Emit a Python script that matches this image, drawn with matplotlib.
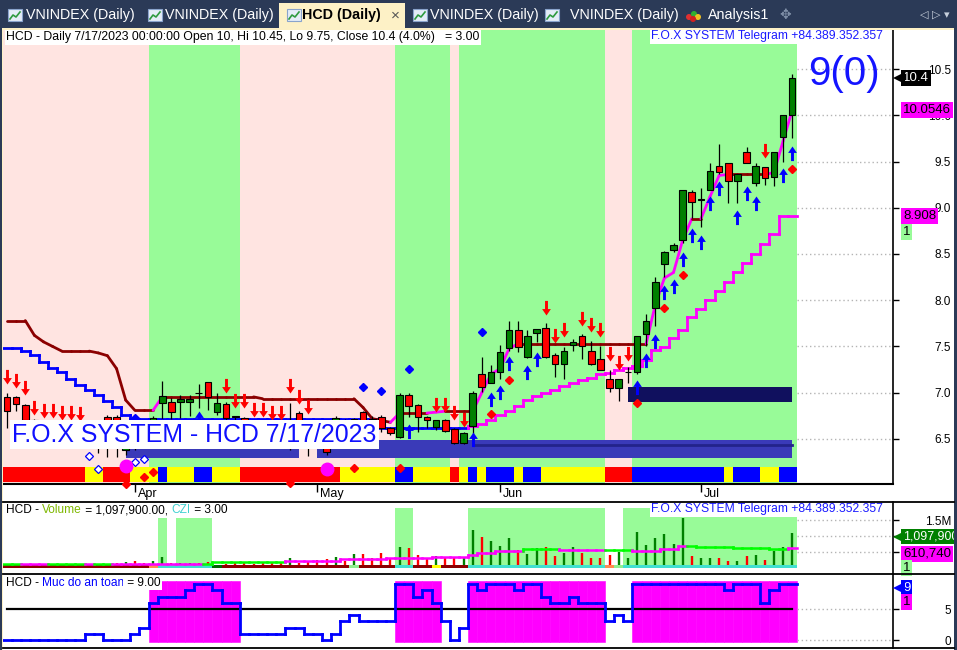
import matplotlib
matplotlib.use("Agg")
import numpy as np
import matplotlib.pyplot as plt
import matplotlib.transforms as mtransforms
from matplotlib.path import Path
from matplotlib.patches import Rectangle, Circle
from matplotlib.collections import LineCollection

plt.rcParams["font.family"] = ["Liberation Sans", "DejaVu Sans"]

# ------------------------------------------------------------------ data
ticker = "HCD"
last_date = "7/17/2023"
month_names = ["Apr", "May", "Jun", "Jul"]
month_bar = [14, 34, 54, 76]

opens = [6.95, 6.95, 6.87, 6.70, 6.62, 6.55, 6.58, 6.50, 6.56, 6.48,
         6.45, 6.74, 6.74, 6.38, 6.52, 6.50, 6.55, 6.885, 6.90, 6.90,
         6.90, 7.00, 7.12, 6.79, 6.875, 6.745, 6.73, 6.65, 6.62, 6.65,
         6.60, 6.62, 6.78, 6.62, 6.55, 6.48, 6.60, 6.70, 6.71, 6.79,
         6.72, 6.74, 6.62, 6.52, 6.98, 6.87, 6.74, 6.63, 6.71, 6.61,
         6.46, 6.64, 7.20, 7.11, 7.22, 7.48, 7.68, 7.39, 7.65, 7.70,
         7.41, 7.31, 7.52, 7.61, 7.45, 7.36, 7.15, 7.05, 7.22, 7.22,
         7.64, 7.92, 8.39, 8.54, 8.65, 9.17, 9.08, 9.19, 9.45, 9.48,
         9.29, 9.60, 9.27, 9.44, 9.33, 9.77, 10.00]
highs = [7.00, 6.96, 6.88, 6.72, 6.66, 6.62, 6.60, 6.60, 6.60, 6.55,
         6.60, 6.76, 6.76, 6.46, 6.55, 6.58, 6.75, 7.13, 6.94, 6.97,
         6.97, 7.09, 7.12, 7.00, 6.90, 6.75, 6.74, 6.68, 6.66, 6.66,
         6.64, 6.885, 6.80, 6.68, 6.60, 6.52, 6.75, 6.72, 6.73, 6.80,
         6.75, 6.76, 6.63, 7.00, 7.00, 6.88, 6.75, 6.71, 6.72, 6.62,
         6.57, 7.02, 7.39, 7.30, 7.52, 7.78, 7.78, 7.68, 7.69, 7.75,
         7.43, 7.49, 7.58, 7.63, 7.56, 7.50, 7.25, 7.15, 7.28, 7.61,
         7.85, 8.25, 8.53, 8.62, 9.19, 9.19, 9.21, 9.48, 9.69, 9.48,
         9.37, 9.66, 9.48, 9.44, 9.60, 10.00, 10.45]
lows = [6.62, 6.80, 6.62, 6.55, 6.50, 6.48, 6.45, 6.45, 6.42, 6.40,
        6.35, 6.30, 6.30, 6.33, 6.38, 6.40, 6.50, 6.70, 6.72, 6.73,
        6.75, 6.84, 6.81, 6.76, 6.70, 6.60, 6.58, 6.55, 6.55, 6.52,
        6.50, 6.38, 6.55, 6.32, 6.40, 6.33, 6.40, 6.58, 6.60, 6.60,
        6.62, 6.58, 6.54, 6.51, 6.74, 6.57, 6.62, 6.60, 6.57, 6.45,
        6.45, 6.55, 7.01, 7.10, 7.15, 7.45, 7.44, 7.38, 7.55, 7.38,
        7.17, 7.15, 7.45, 7.37, 7.30, 7.25, 7.01, 6.91, 7.10, 7.20,
        7.50, 7.72, 8.25, 8.52, 8.62, 8.89, 8.79, 9.19, 9.37, 9.05,
        9.05, 9.48, 9.24, 9.25, 9.24, 9.50, 9.75]
closes = [6.80, 6.88, 6.70, 6.60, 6.55, 6.58, 6.50, 6.55, 6.48, 6.45,
          6.55, 6.50, 6.52, 6.42, 6.45, 6.46, 6.73, 6.96, 6.79, 6.93,
          6.93, 6.995, 6.95, 6.885, 6.73, 6.74, 6.62, 6.60, 6.58, 6.58,
          6.55, 6.625, 6.62, 6.50, 6.45, 6.36, 6.73, 6.62, 6.715, 6.67,
          6.67, 6.62, 6.56, 6.98, 6.86, 6.74, 6.70, 6.70, 6.59, 6.46,
          6.56, 7.00, 7.06, 7.22, 7.44, 7.68, 7.49, 7.61, 7.69, 7.39,
          7.31, 7.45, 7.55, 7.50, 7.31, 7.25, 7.05, 7.15, 7.225, 7.61,
          7.78, 8.20, 8.52, 8.60, 9.19, 9.06, 9.10, 9.40, 9.39, 9.29,
          9.36, 9.48, 9.45, 9.32, 9.60, 10.00, 10.40]

# volume in millions of shares
volume = [0.08, 0.07, 0.09, 0.06, 0.07, 0.08, 0.06, 0.07, 0.09, 0.07,
          0.10, 0.10, 0.14, 0.19, 0.22, 0.16, 0.22, 0.35, 0.16, 0.16,
          0.14, 0.16, 0.19, 0.08, 0.12, 0.16, 0.16, 0.12, 0.16, 0.16,
          0.14, 0.31, 0.16, 0.22, 0.24, 0.26, 0.35, 0.22, 0.42, 0.42,
          0.29, 0.47, 0.29, 0.66, 0.63, 0.40, 0.27, 0.38, 0.35, 0.29,
          0.29, 1.18, 0.97, 0.84, 0.68, 0.94, 0.56, 0.43, 0.61, 0.64,
          0.37, 0.47, 0.64, 0.47, 0.31, 0.31, 0.40, 0.48, 0.31, 1.13,
          0.71, 0.92, 1.05, 0.76, 1.57, 0.37, 0.31, 0.31, 0.31, 0.21,
          0.21, 0.37, 0.40, 0.24, 0.52, 0.64, 1.0979]
volume_ma = [0.11, 0.11, 0.11, 0.11, 0.11, 0.11, 0.11, 0.11, 0.11, 0.11,
             0.11, 0.11, 0.11, 0.11, 0.11, 0.11, 0.13, 0.13, 0.13, 0.13,
             0.13, 0.13, 0.13, 0.19, 0.19, 0.19, 0.19, 0.19, 0.19, 0.19,
             0.19, 0.22, 0.22, 0.22, 0.22, 0.22, 0.22, 0.26, 0.26, 0.26,
             0.26, 0.26, 0.31, 0.31, 0.31, 0.31, 0.31, 0.35, 0.35, 0.35,
             0.35, 0.40, 0.46, 0.46, 0.52, 0.52, 0.52, 0.58, 0.58, 0.58,
             0.58, 0.57, 0.57, 0.57, 0.57, 0.57, 0.55, 0.55, 0.55, 0.52,
             0.52, 0.52, 0.60, 0.60, 0.69, 0.69, 0.66, 0.66, 0.66, 0.66,
             0.62, 0.62, 0.62, 0.62, 0.60, 0.60, 0.61074]
volume_ma_color = ("ggmmmggggm" "ggmmmmmmmm" "mmgggggggg" "gmmmmmmmmm" "mmmmmmmmmm"
                   "mmmmmmmggg" "gmmmmmgggm" "mmmmmggggg" "ggggggm")
czi_strip = ("dddddddddd" "ddddddottt" "tttgdddddd" "ddddddddld" "dddttddydd"
             "dttttttttt" "ttttttoltt" "tttttttttt" "ttttttt")
vol_zone_first = [17, 19, 43, 51, 68]
vol_zone_last = [17, 22, 44, 65, 86]
vol_zone_top = [1.57, 1.57, 1.89, 1.89, 1.89]

# trailing stops on the price pane
fast_stop = [7.78, 7.78, 7.78, 7.62, 7.55, 7.50, 7.45, 7.45, 7.45, 7.45,
             7.43, 7.40, 7.26, 6.92, 6.81, 6.81, 6.81, 6.955, 6.955, 6.955,
             6.955, 6.955, 6.955, 6.955, 6.955, 6.955, 6.955, 6.955, 6.935, 6.935,
             6.935, 6.935, 6.935, 6.935, 6.935, 6.935, 6.935, 6.935, 6.935, 6.84,
             6.72, 6.70, 6.68, 6.78, 6.78, 6.78, 6.78, 6.79, 6.80, 6.80,
             6.80, 6.80, 7.00, 7.20, 7.26, 7.48, 7.53, 7.53, 7.53, 7.53,
             7.53, 7.53, 7.53, 7.53, 7.53, 7.53, 7.53, 7.53, 7.53, 7.53,
             7.53, 7.95, 8.24, 8.30, 8.65, 8.88, 8.88, 9.12, 9.35, 9.36,
             9.36, 9.36, 9.36, 9.36, 9.38, 9.72, 10.0546]
slow_stop = [7.48, 7.48, 7.45, 7.41, 7.33, 7.27, 7.22, 7.15, 7.08, 7.03,
             6.98, 6.91, 6.85, 6.76, 6.72, 6.72, 6.72, 6.72, 6.72, 6.72,
             6.72, 6.72, 6.72, 6.72, 6.72, 6.72, 6.72, 6.72, 6.72, 6.72,
             6.72, 6.72, 6.72, 6.72, 6.72, 6.72, 6.72, 6.72, 6.72, 6.72,
             6.72, 6.62, 6.62, 6.62, 6.62, 6.62, 6.62, 6.62, 6.62, 6.62,
             6.62, 6.64, 6.66, 6.70, 6.76, 6.80, 6.86, 6.92, 6.96, 7.00,
             7.03, 7.07, 7.11, 7.14, 7.16, 7.20, 7.21, 7.25, 7.27, 7.29,
             7.35, 7.46, 7.49, 7.59, 7.68, 7.82, 7.91, 8.00, 8.10, 8.20,
             8.30, 8.40, 8.50, 8.61, 8.72, 8.91, 8.908]
slow_stop_color = ("bbbbbbbbbb" "bbbbbbbbbb" "bbbbbbbbbb" "bbbbbbbbbb" "bbbbbbbbbb"
                   "bmmmmmmmmm" "mmmmmmmmmm" "mmmmmmmmmm" "mmmmmmm")

trend_bg = ("pppppppppp" "ppppppgggg" "ggggggpppp" "pppppppppp" "pppggggggp"
            "gggggggggg" "ggggggpppg" "gggggggggg" "ggggggg")
signal_strip = ("rrrrrrrrry" "yrrryyybyy" "ybbyyyrrrr" "rrrrrrryyy" "yyybbyyyyr"
                "ybybbbybby" "yyyyyyrrrb" "bbbbbbbbby" "bbbyybb")

zone_first = [13, 34]
zone_last = [32, 86]
zone_low, zone_high = 6.29, 6.485
zone_line_first, zone_line_price = 51, 6.44
box_first, box_last = 68, 86
box_low, box_high = 6.90, 7.06

sell_bars = [0, 1, 2, 3, 4, 5, 6, 7, 8, 24, 25, 26, 27, 28, 29, 30, 31, 32, 33,
             47, 48, 49, 50, 59, 60, 61, 63, 64, 65, 66, 67, 68, 83]
sell_tip = [7.09, 7.05, 6.98, 6.76, 6.73, 6.73, 6.71, 6.70, 6.69, 7.00, 6.84, 6.84,
            6.74, 6.74, 6.71, 6.71, 7.00, 6.88, 6.77, 6.79, 6.79, 6.71, 6.63,
            7.84, 7.54, 7.60, 7.72, 7.66, 7.60, 7.34, 7.25, 7.34, 9.54]
buy_bars = [17, 21, 22, 44, 51, 53, 54, 55, 57, 58, 69, 70, 71, 72, 73, 74, 75,
            76, 77, 78, 80, 81, 82, 85, 86]
buy_tip = [6.73, 6.80, 6.73, 6.66, 6.58, 7.01, 7.08, 7.40, 7.30, 7.44, 7.14, 7.43,
           7.63, 8.16, 8.23, 8.52, 8.78, 8.71, 9.13, 9.29, 8.98, 9.23, 9.13, 9.43, 9.67]
blue_dot_bars = [14, 39, 41, 44, 52]
blue_dot_price = [6.73, 7.06, 7.02, 7.26, 7.66]
hollow_dot_bars = [9, 10, 14, 15]
hollow_dot_price = [6.32, 6.18, 6.25, 6.28]
red_dot_bars = [13, 15, 16, 31, 38, 43, 53, 55, 69, 72, 74, 86]
red_dot_price = [6.01, 6.09, 6.14, 6.02, 6.19, 6.19, 6.77, 7.14, 6.89, 7.92, 8.27, 9.42]
circle_bars = [13, 35]
circle_price = [6.21, 6.18]

# "Muc do an toan" (safety level) pane
safety = [0, 0, 0, 0, 0, 0, 0, 0, 0, 1,
          1, 0, 0, 0, 1, 2, 6, 7, 7, 7,
          8, 9, 9, 8, 6, 6, 1, 1, 1, 1,
          1, 2, 2, 1, 1, 0, 1, 3, 4, 3,
          3, 3, 3, 9, 9, 7, 8, 6, 3, 0,
          2, 9, 8, 9, 9, 9, 8, 9, 9, 7,
          6, 6, 7, 6, 6, 6, 3, 4, 3, 9,
          9, 9, 9, 9, 9, 9, 9, 9, 9, 8,
          9, 9, 9, 6, 8, 9, 9]
safe_level = 5

# ------------------------------------------------------------------ helpers
MAGENTA = "#ff00ff"
BLUE = "#0000ff"
MAROON = "#8b0000"
LGREEN = "#98fb98"
PINK = "#ffe4e1"


def runs(codes):
    out, start = [], 0
    for i in range(1, len(codes) + 1):
        if i == len(codes) or codes[i] != codes[start]:
            out.append((start, i - 1, codes[start]))
            start = i
    return out


def step_segments(vals, cols):
    segs, cc = [], []
    for i, v in enumerate(vals):
        segs.append([(i - 0.5, v), (i + 0.5, v)])
        cc.append(cols[i])
        if i + 1 < len(vals):
            segs.append([(i + 0.5, v), (i + 0.5, vals[i + 1])])
            cc.append(cols[i + 1])
    return segs, cc


def side_label(ax, value, text, fc, tc="black", dy=0, arrow=False, size=9.5):
    tr = mtransforms.blended_transform_factory(ax.transAxes, ax.transData)
    ax.annotate(text, xy=(1, value), xycoords=tr, xytext=(7.2, dy),
                textcoords="offset points", ha="left", va="center",
                fontsize=size, color=tc, annotation_clip=False, zorder=8,
                bbox=dict(boxstyle="square,pad=0.15", fc=fc, ec="none"))
    if arrow:
        off = mtransforms.offset_copy(tr, fig=ax.figure, x=4.2, y=dy, units="points")
        ax.plot([1], [value], marker="<", ms=8.5, color=fc, mew=0,
                transform=off, clip_on=False, zorder=8)


def chain_title(ax, parts, x, y, size=8.6):
    box = dict(boxstyle="square,pad=0.12", fc="white", ec="none")
    t = ax.text(x, y, parts[0][0], color=parts[0][1], transform=ax.transAxes,
                ha="left", va="top", fontsize=size, bbox=box, zorder=9)
    for s, c in parts[1:]:
        t = ax.annotate(s, xy=(1, 0), xycoords=t, ha="left", va="bottom",
                        color=c, fontsize=size, bbox=box, zorder=9)


n = len(closes)
x = np.arange(n)
o, h, l, c = map(np.array, (opens, highs, lows, closes))
XLIM = (-0.44, 97.04)

up_arrow = Path([(0, 0), (0.30, -0.44), (0.10, -0.44), (0.10, -1), (-0.10, -1),
                 (-0.10, -0.44), (-0.30, -0.44), (0, 0)],
                [Path.MOVETO] + [Path.LINETO] * 6 + [Path.CLOSEPOLY])
down_arrow = Path([(px, -py) for px, py in up_arrow.vertices], up_arrow.codes)

# ------------------------------------------------------------------ figure
W, H = 957, 650
fig = plt.figure(figsize=(W / 100, H / 100), dpi=100)


def fig_rect(x0, y0, x1, y1):
    return [x0 / W, 1 - y1 / H, (x1 - x0) / W, (y1 - y0) / H]


ax = fig.add_axes(fig_rect(3, 30, 893, 484))
axv = fig.add_axes(fig_rect(3, 502, 893, 574))
axs = fig.add_axes(fig_rect(3, 574, 893, 648))

for a in (ax, axv, axs):
    a.set_xlim(*XLIM)
    for side in ("left", "top", "bottom"):
        a.spines[side].set_visible(False)
    a.spines["right"].set_linewidth(1.2)
    a.yaxis.tick_right()
    a.tick_params(axis="y", direction="out", length=4, width=1, labelsize=8.5, pad=38)

# ---------------- price pane
ax.set_ylim(6.013, 10.922)
for s, e, code in runs(trend_bg):
    ax.axvspan(s - 0.5, e + 0.5, color=LGREEN if code == "g" else PINK, lw=0, zorder=0)

price_ticks = [6.5, 7.0, 7.5, 8.0, 8.5, 9.0, 9.5, 10.0, 10.5]
ax.set_yticks(price_ticks)
ax.set_yticklabels([f"{t:.1f}" for t in price_ticks])
ax.hlines(price_ticks, n - 0.5, XLIM[1], colors="#b4b4b4", linestyles=(0, (1, 2)), lw=1, zorder=0.5)

for s, e in zip(zone_first, zone_last):
    ax.add_patch(Rectangle((s, zone_low), e - s, zone_high - zone_low, fc="#3a3ab8", lw=0, zorder=1))
ax.plot([zone_line_first, zone_last[-1]], [zone_line_price] * 2, color="#23238a", lw=2, zorder=1.1)
ax.add_patch(Rectangle((box_first, box_low), box_last - box_first, box_high - box_low,
                       fc="#10105e", lw=0, zorder=1))

strip_tr = mtransforms.blended_transform_factory(ax.transData, ax.transAxes)
strip_col = {"r": "#ff0000", "y": "#ffff00", "b": "#0000ff"}
for s, e, code in runs(signal_strip):
    ax.add_patch(Rectangle((s - 0.5, 0.004), e - s + 1, 0.034, transform=strip_tr,
                           fc=strip_col[code], lw=0, zorder=1))

segs, cols = step_segments(slow_stop, [BLUE if k == "b" else MAGENTA for k in slow_stop_color])
ax.add_collection(LineCollection(segs, colors=cols, linewidths=2, capstyle="projecting", zorder=2))
fast_segs = [[(i, fast_stop[i]), (i + 1, fast_stop[i + 1])] for i in range(n - 1)]
fast_cols = [MAGENTA if fast_stop[i + 1] > fast_stop[i] else MAROON for i in range(n - 1)]
ax.add_collection(LineCollection(fast_segs, colors=fast_cols, linewidths=2,
                                 capstyle="round", zorder=2))

body_col = np.where(c > o, "#008000", np.where(c < o, "#ff0000", "black"))
ax.vlines(x, l, h, color="black", lw=0.9, zorder=3)
ax.bar(x, c - o, bottom=o, width=0.72, color=body_col, edgecolor="black", lw=0.8, zorder=3.1)

ax.plot(sell_bars, sell_tip, ls="none", marker=down_arrow, ms=21, mfc="#ff0000", mew=0, zorder=4)
ax.plot(buy_bars, buy_tip, ls="none", marker=up_arrow, ms=21, mfc="#0000ff", mew=0, zorder=4)
ax.plot(blue_dot_bars, blue_dot_price, ls="none", marker="D", ms=4.2, color="#0000ff", zorder=4)
ax.plot(hollow_dot_bars, hollow_dot_price, ls="none", marker="D", ms=4.2, mfc="white",
        mec="#0000ff", mew=0.9, zorder=4)
ax.plot(red_dot_bars, red_dot_price, ls="none", marker="D", ms=4.2, color="#ff0000",
        zorder=4, clip_on=False)
ax.plot(circle_bars, circle_price, ls="none", marker="o", ms=9, color=MAGENTA, zorder=4)

ax.set_xticks(month_bar)
ax.set_xticklabels(month_names, fontsize=9)
ax.tick_params(axis="x", direction="out", length=6, width=1, pad=-3)
ax.spines["bottom"].set_visible(True)
ax.spines["bottom"].set_linewidth(1.5)
shift = mtransforms.ScaledTranslation(3 / 100, 0, fig.dpi_scale_trans)
for lab in ax.get_xticklabels():
    lab.set_horizontalalignment("left")
    lab.set_transform(lab.get_transform() + shift)
for lab in ax.get_yticklabels():
    lab.set_horizontalalignment("right")

chg = (closes[-1] / closes[-2] - 1) * 100
header = (f"{ticker} - Daily {last_date} 00:00:00 Open {opens[-1]:g}, Hi {highs[-1]:g}, "
          f"Lo {lows[-1]:g}, Close {closes[-1]:g} ({chg:.1f}%)   = 3.00")
chain_title(ax, [(header, "black")], 0.0035, 0.997, size=8.8)
tele = "F.O.X SYSTEM Telegram +84.389.352.357"
ax.text(0.989, 0.999, tele, transform=ax.transAxes, ha="right", va="top", fontsize=8.75,
        color="#1a1aff", zorder=9, bbox=dict(boxstyle="square,pad=0.12", fc="white", ec="none"))
ax.text(0.945, 0.903, f"{safety[-1]}(0)", transform=ax.transAxes, ha="center", va="center",
        fontsize=29, color="#1414ff", zorder=9)
ax.text(0.0105, 0.109, f"F.O.X SYSTEM - {ticker} {last_date}", transform=ax.transAxes,
        ha="left", va="center", fontsize=17.9, color="#1010ff", zorder=9,
        bbox=dict(boxstyle="square,pad=0.1", fc="white", ec="none"))

side_label(ax, closes[-1], f"{closes[-1]:g}", "black", "white", arrow=True)
side_label(ax, fast_stop[-1], f"{fast_stop[-1]:g}", MAGENTA)
side_label(ax, slow_stop[-1], f"{slow_stop[-1]:g}", MAGENTA)
side_label(ax, slow_stop[-1], "1", LGREEN, dy=-11)

# ---------------- volume pane
axv.set_ylim(-0.2, 2.07)
for s, e, top in zip(vol_zone_first, vol_zone_last, vol_zone_top):
    axv.add_patch(Rectangle((s - 0.5, 0), e - s + 1, top, fc=LGREEN, lw=0, zorder=0))
vol_ticks = [0.5, 1.0, 1.5]
axv.set_yticks(vol_ticks)
axv.set_yticklabels(["", "", "1.5M"])
axv.hlines(vol_ticks, n - 0.5, XLIM[1], colors="#b4b4b4", linestyles=(0, (1, 2)), lw=1, zorder=0.5)
vol_col = np.where(c >= o, "#008000", "#ff0000")
axv.vlines(x, 0, volume, colors=vol_col, lw=1.7, zorder=2)
czi_col = {"d": "#8b0000", "o": "#ff8c50", "t": "#40e0d0", "g": "#006400",
           "l": "#90ee90", "y": "#ffff00"}
for s, e, code in runs(czi_strip):
    axv.add_patch(Rectangle((s - 0.5, 0), e - s + 1, 0.085, fc=czi_col[code], lw=0, zorder=2.5))
segs, cols = step_segments(volume_ma, ["#00ff00" if k == "g" else MAGENTA for k in volume_ma_color])
axv.add_collection(LineCollection(segs, colors=cols, linewidths=1.8, capstyle="projecting", zorder=3))
chain_title(axv, [(f"{ticker} - ", "black"), ("Volume", "#7fb800"),
                  (f" = {volume[-1] * 1e6:,.2f}, ", "black"), ("CZI", "#40d0d0"),
                  (" = 3.00", "black")], 0.0035, 0.97)
axv.text(0.989, 0.985, tele, transform=axv.transAxes, ha="right", va="top", fontsize=8.75,
         color="#1a1aff", zorder=9, bbox=dict(boxstyle="square,pad=0.12", fc="white", ec="none"))
side_label(axv, volume[-1], f"{volume[-1] * 1e6:,.0f}", "#008000", "white", dy=-2.7,
           arrow=True, size=8.9)
side_label(axv, volume[-1], f"{volume_ma[-1] * 1e6:,.0f}", MAGENTA, dy=-15)
side_label(axv, volume[-1], "1", LGREEN, dy=-25)

# ---------------- safety pane
axs.set_ylim(-1.29, 10.65)
safe = np.array(safety)
axs.bar(x[safe >= safe_level], 9.8, bottom=-0.3, width=1.0, color=MAGENTA,
        edgecolor=MAGENTA, lw=0.4, zorder=0)
axs.set_yticks([0, 5])
axs.set_yticklabels(["0", "5"])
axs.hlines([0, 5], n - 0.5, XLIM[1], colors="#b4b4b4", linestyles=(0, (1, 2)), lw=1, zorder=0.5)
axs.plot([x[0], x[-1]], [safe_level, safe_level], color="black", lw=1.6, zorder=1)
segs, cols = step_segments(safety, [BLUE] * n)
axs.add_collection(LineCollection(segs, colors=cols, linewidths=2, capstyle="projecting", zorder=2))
chain_title(axs, [(f"{ticker} - ", "black"), ("Muc do an toan", "#0000ff"),
                  (f" = {safety[-1]:.2f}", "black")], 0.0035, 0.96)
side_label(axs, safety[-1], f"{safety[-1]}", BLUE, "white", dy=-2.5, arrow=True)
side_label(axs, safety[-1], "1", MAGENTA, dy=-13)
for a in (axv, axs):
    a.set_xticks([])
    for lab in a.get_yticklabels():
        lab.set_horizontalalignment("right")

# ---------------- window chrome (pixel coordinates)
ch = fig.add_axes([0, 0, 1, 1], zorder=10)
ch.set_xlim(0, W)
ch.set_ylim(H, 0)
ch.axis("off")
ch.patch.set_alpha(0)
NAVY = "#2b3a57"
CREAM = "#fdf1c6"
ch.add_patch(Rectangle((0, 0), W, 28, fc=NAVY, lw=0))
ch.add_patch(Rectangle((0, 0), 2, H, fc=NAVY, lw=0))
ch.add_patch(Rectangle((954, 0), 3, H, fc=NAVY, lw=0))
ch.add_patch(Rectangle((2, 27.5), 952, 2.5, fc=CREAM, lw=0))
ch.add_patch(Rectangle((2, 28), 1.2, H, fc=CREAM, lw=0))
ch.add_patch(Rectangle((279, 3), 126, 26, fc=CREAM, lw=0))

tabs = ["VNINDEX (Daily)", "VNINDEX (Daily)", "HCD (Daily)", "VNINDEX (Daily)",
        "VNINDEX (Daily)", "Analysis1"]
tab_text_x = [26, 165, 302, 430, 570, 708]
tab_icon_x = [8, 148, 287, 413, 545, 689]
for i, (name, tx, ix) in enumerate(zip(tabs, tab_text_x, tab_icon_x)):
    active = name.startswith(ticker)
    ch.text(tx, 15.5, name, ha="left", va="center", fontsize=10.3,
            color="black" if active else "white", fontweight="bold" if active else "normal")
    if name == "Analysis1":
        for dx, dy, col in [(0, 2, "#e03030"), (5, -1, "#30b030"), (9, 2, "#f0c020"), (4, 4, "#d02020")]:
            ch.add_patch(Circle((ix + dx, 15 + dy), 3, fc=col, lw=0))
    else:
        ch.add_patch(Rectangle((ix, 9), 14, 12, fc="#e4ecf7", ec="#8aa4cc", lw=0.8))
        ch.plot([ix + 2, ix + 5, ix + 8, ix + 12], [19, 15, 17, 12], color="#2e9a3e", lw=1.2)
ch.text(395, 15.5, "×", ha="center", va="center", fontsize=11, color="#555555")
ch.text(785, 15, "✥", ha="center", va="center", fontsize=10, color="#8090a8",
        family=["DejaVu Sans"])
ch.text(935, 15, "◁ ▷ ▾", ha="center", va="center", fontsize=8, color="#c8d0dc",
        family=["DejaVu Sans"])

for yy in (501.5, 574, 648):
    ch.plot([3, 954], [yy, yy], color="black", lw=1.3)

fig.savefig("out.png", dpi=100)
